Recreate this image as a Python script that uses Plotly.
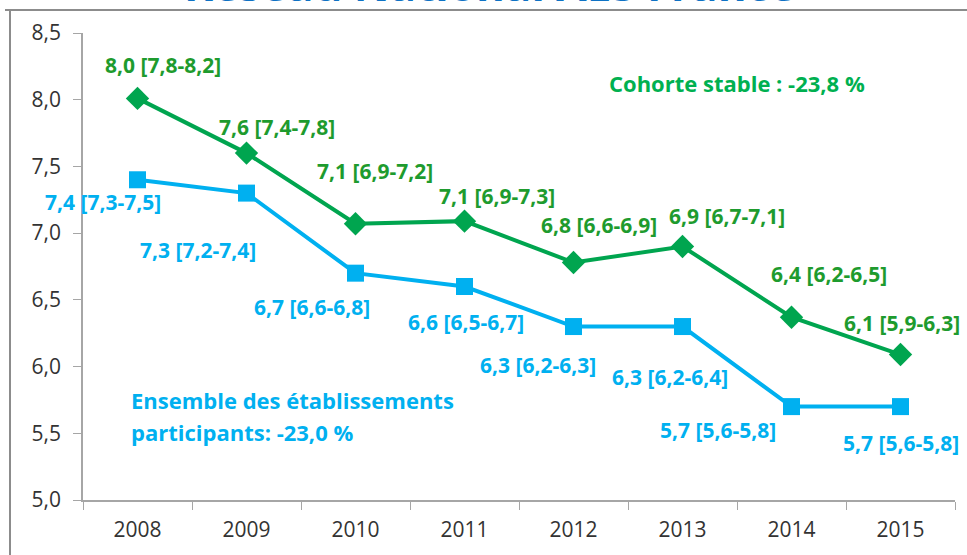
import plotly.graph_objects as go

years = ["2008", "2009", "2010", "2011", "2012", "2013", "2014", "2015"]
cohorte = [8.01, 7.60, 7.07, 7.09, 6.78, 6.90, 6.37, 6.09]
ensemble = [7.40, 7.30, 6.70, 6.60, 6.30, 6.30, 5.70, 5.70]
cohorte_labels = ["8,0 [7,8-8,2]", "7,6 [7,4-7,8]", "7,1 [6,9-7,2]", "7,1 [6,9-7,3]",
                  "6,8 [6,6-6,9]", "6,9 [6,7-7,1]", "6,4 [6,2-6,5]", "6,1 [5,9-6,3]"]
ensemble_labels = ["7,4 [7,3-7,5]", "7,3 [7,2-7,4]", "6,7 [6,6-6,8]", "6,6 [6,5-6,7]",
                   "6,3 [6,2-6,3]", "6,3 [6,2-6,4]", "5,7 [5,6-5,8]", "5,7 [5,6-5,8]"]
y_ticks = [5.0, 5.5, 6.0, 6.5, 7.0, 7.5, 8.0, 8.5]
y_ticktext = ["5,0", "5,5", "6,0", "6,5", "7,0", "7,5", "8,0", "8,5"]
title_text = "Réseau National AES France"
cohorte_note = "Cohorte stable : -23,8 %"
ensemble_note = ["Ensemble des établissements", "participants: -23,0 %"]

# label offsets in pixels (dx, dy up)
cohorte_off = [(25, 33), (30, 26), (19, 53), (32, 25), (25, 38), (44, 30), (37, 43), (1, 32)]
ensemble_off = [(-35, -22), (-49, -57), (-44, -34), (1, -35), (-36, -38), (-13, -50), (-74, -23), (0, -36)]

GREEN = "#00A54F"
GREEN_TXT = "#1E9B2E"
BLUE = "#00B0F0"
FONT = "Open Sans"

fig = go.Figure()
fig.add_trace(go.Scatter(x=years, y=cohorte, mode="lines+markers",
                         line=dict(color=GREEN, width=4),
                         marker=dict(symbol="diamond", size=18, color=GREEN),
                         showlegend=False, cliponaxis=False))
fig.add_trace(go.Scatter(x=years, y=ensemble, mode="lines+markers",
                         line=dict(color=BLUE, width=4),
                         marker=dict(symbol="square", size=17, color=BLUE),
                         showlegend=False, cliponaxis=False))

anns = []
for i, (v, t, (dx, dy)) in enumerate(zip(cohorte, cohorte_labels, cohorte_off)):
    anns.append(dict(x=i, y=v, xref="x", yref="y", text=t, showarrow=False,
                     xshift=dx, yshift=dy,
                     font=dict(family=FONT, size=21, color=GREEN_TXT, weight="bold")))
for i, (v, t, (dx, dy)) in enumerate(zip(ensemble, ensemble_labels, ensemble_off)):
    anns.append(dict(x=i, y=v, xref="x", yref="y", text=t, showarrow=False,
                     xshift=dx, yshift=dy,
                     font=dict(family=FONT, size=21, color=BLUE, weight="bold")))

# notes
anns.append(dict(x=(607 - 83) / 872, y=(500 - 83) / 467, xref="paper", yref="paper",
                 xanchor="left", yanchor="middle", text=cohorte_note, showarrow=False,
                 font=dict(family=FONT, size=22, color="#00B050", weight="bold")))
for k, (line, ypx) in enumerate(zip(ensemble_note, [400, 432])):
    anns.append(dict(x=(129 - 83) / 872, y=(500 - ypx) / 467, xref="paper", yref="paper",
                     xanchor="left", yanchor="middle", align="left", text=line,
                     showarrow=False,
                     font=dict(family=FONT, size=22, color=BLUE, weight="bold")))
# cut-off title
anns.append(dict(x=(489 - 83) / 872, y=(500 - 8) / 467, xref="paper", yref="paper",
                 xanchor="center", yanchor="bottom", text=title_text, showarrow=False,
                 yshift=-8,
                 font=dict(family=FONT, size=44, color="#0E72C4", weight="bold")))

fig.update_layout(
    width=967, height=555,
    margin=dict(l=83, r=12, t=33, b=55),
    paper_bgcolor="white", plot_bgcolor="white",
    annotations=anns,
    shapes=[
        dict(type="line", xref="paper", yref="paper",
             x0=(10 - 83) / 872, x1=(10 - 83) / 872, y0=(500 - 10) / 467, y1=(500 - 560) / 467,
             line=dict(color="#8C8C8C", width=2)),
        dict(type="line", xref="paper", yref="paper",
             x0=(5 - 83) / 872, x1=(970 - 83) / 872, y0=(500 - 10) / 467, y1=(500 - 10) / 467,
             line=dict(color="#8C8C8C", width=2)),
    ],
    xaxis=dict(type="category", showgrid=False, showline=True, linecolor="#A6A6A6",
               linewidth=1.5, ticks="outside", ticklen=8, tickcolor="#A6A6A6",
               tickson="boundaries", range=[-0.5, 7.5], ticklabelstandoff=10,
               tickfont=dict(family=FONT, size=21, color="#333333")),
    yaxis=dict(range=[5.0, 8.5], tickvals=y_ticks, ticktext=y_ticktext, showgrid=False,
               zeroline=False, showline=True, linecolor="#A6A6A6", linewidth=1.5,
               ticks="outside", ticklen=8, tickcolor="#A6A6A6", ticklabelstandoff=8,
               tickfont=dict(family=FONT, size=21, color="#333333")),
)

fig.write_html("out.html")
